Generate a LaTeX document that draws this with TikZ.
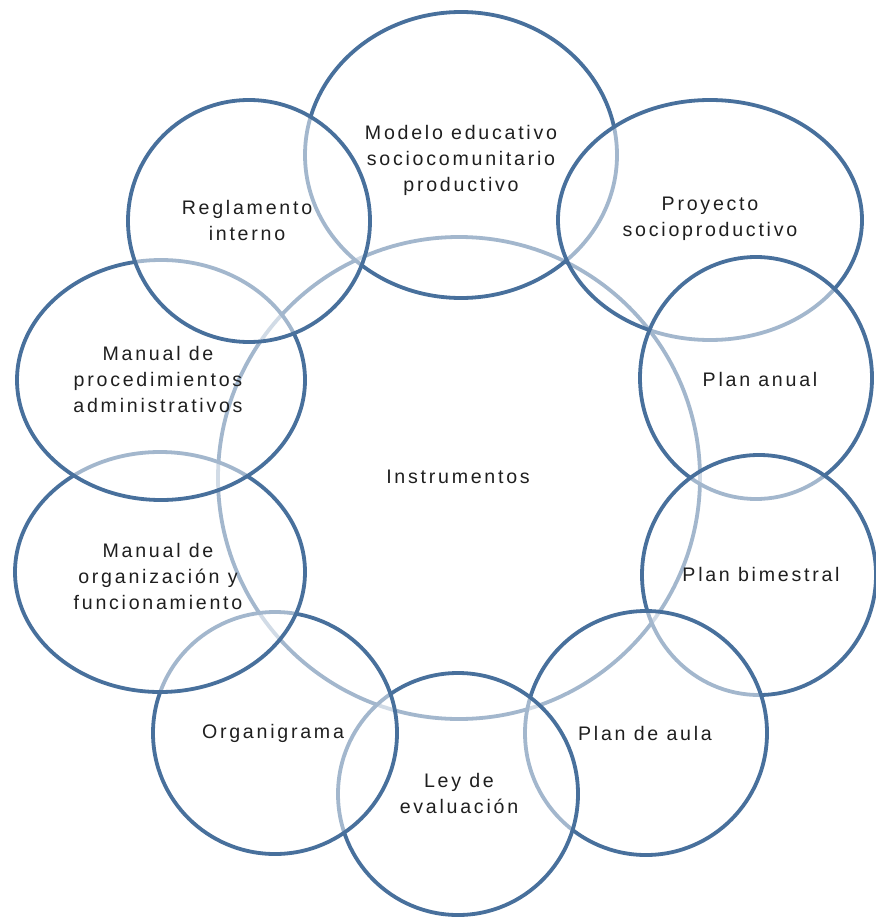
\documentclass[tikz,border=0pt]{standalone}
\usepackage{fontspec}
\setmainfont{Liberation Sans}[LetterSpace=14]
\usetikzlibrary{shapes.geometric}
\definecolor{ring}{HTML}{48709C}
\begin{document}
\begin{tikzpicture}[x=1pt,y=-1pt,
  sat/.style={ellipse, draw=ring, line width=3.8pt, fill=white, fill opacity=0.5, draw opacity=1, inner sep=0pt},
  hub/.style={circle, draw=ring, line width=3.8pt, inner sep=0pt},
  lab/.style={align=center, font=\fontsize{19.6}{26}\selectfont, text=black!88, inner sep=0pt}]
\fill[white] (0,0) rectangle (875,917);
\useasboundingbox (0,0) rectangle (875,917);
% hub
\node[hub, minimum size=482pt] (instr) at (459,478) {};
% satellites in drawing order
\node[sat, minimum width=312pt, minimum height=286pt] (modelo) at (461,155) {};
\node[sat, minimum width=304pt, minimum height=240pt] (proyecto) at (710,220) {};
\node[sat, minimum width=232pt, minimum height=242pt] (anual) at (756,378) {};
\node[sat, minimum width=234pt, minimum height=240pt] (bimestral) at (759,575) {};
\node[sat, minimum width=242pt, minimum height=244pt] (aula) at (646,733) {};
\node[sat, minimum width=240pt, minimum height=242pt] (ley) at (458,794) {};
\node[sat, minimum width=244pt, minimum height=242pt] (organi) at (275,733) {};
\node[sat, minimum width=290pt, minimum height=240pt] (morg) at (160,572) {};
\node[sat, minimum width=288pt, minimum height=240pt] (mproc) at (161,380) {};
\node[sat, minimum width=242pt, minimum height=242pt] (regla) at (249,221) {};
% labels
\node[lab] (tinstr) at (458,477) {Instrumentos};
\node[lab] (tmodelo) at (461,160) {Modelo educativo\\sociocomunitario\\productivo};
\node[lab] (tproyecto) at (710,219) {Proyecto\\socioproductivo};
\node[lab] (tanual) at (760,379) {Plan anual};
\node[lab] (tbimestral) at (761,574) {Plan bimestral};
\node[lab] (taula) at (645,733) {Plan de aula};
\node[lab] (tley) at (459,793) {Ley de\\evaluación};
\node[lab] (torgani) at (273,733) {Organigrama};
\node[lab] (tmorg) at (158,576) {Manual de\\organización y\\funcionamiento};
\node[lab] (tmproc) at (158,379) {Manual de\\procedimientos\\administrativos};
\node[lab] (tregla) at (247,220) {Reglamento\\interno};
\end{tikzpicture}
\end{document}
